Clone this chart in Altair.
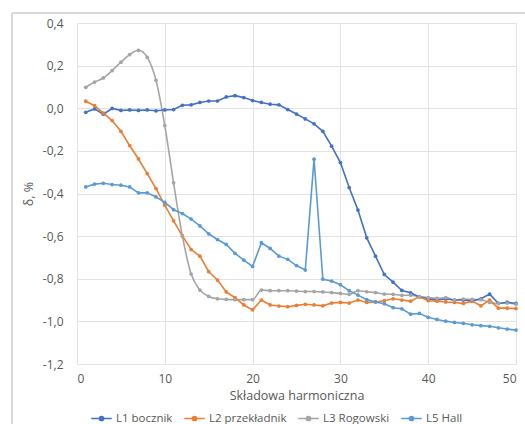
import altair as alt
import pandas as pd

harmonics = list(range(1, 51))

L1_bocznik = [-0.019, -0.003, -0.028, -0.001, -0.010, -0.008, -0.010, -0.008, -0.012, -0.008,
              -0.006, 0.014, 0.016, 0.027, 0.034, 0.034, 0.053, 0.059, 0.050, 0.036,
              0.027, 0.019, 0.016, -0.006, -0.027, -0.050, -0.073, -0.108, -0.178, -0.255,
              -0.372, -0.478, -0.608, -0.694, -0.780, -0.816, -0.855, -0.866, -0.885, -0.895,
              -0.900, -0.895, -0.900, -0.900, -0.905, -0.894, -0.872, -0.916, -0.910, -0.916]

L2_przekladnik = [0.033, 0.012, -0.023, -0.058, -0.108, -0.175, -0.238, -0.307, -0.377, -0.455,
                  -0.528, -0.599, -0.663, -0.694, -0.767, -0.806, -0.862, -0.889, -0.923, -0.946,
                  -0.900, -0.923, -0.928, -0.931, -0.925, -0.920, -0.923, -0.927, -0.914, -0.911,
                  -0.914, -0.900, -0.911, -0.909, -0.903, -0.894, -0.900, -0.905, -0.884, -0.903,
                  -0.905, -0.909, -0.911, -0.916, -0.905, -0.927, -0.900, -0.938, -0.938, -0.940]

L3_rogowski = [0.098, 0.123, 0.142, 0.177, 0.216, 0.252, 0.272, 0.239, 0.131, -0.081,
               -0.350, -0.599, -0.778, -0.853, -0.883, -0.894, -0.897, -0.898, -0.898, -0.898,
               -0.853, -0.856, -0.856, -0.856, -0.858, -0.860, -0.860, -0.862, -0.865, -0.869,
               -0.873, -0.856, -0.861, -0.865, -0.872, -0.873, -0.878, -0.877, -0.884, -0.889,
               -0.892, -0.888, -0.900, -0.895, -0.897, -0.898, -0.911, -0.916, -0.914, -0.920]

L5_hall = [-0.369, -0.356, -0.352, -0.358, -0.361, -0.369, -0.397, -0.397, -0.416, -0.442,
           -0.476, -0.494, -0.520, -0.552, -0.589, -0.616, -0.639, -0.681, -0.713, -0.742,
           -0.631, -0.658, -0.694, -0.709, -0.738, -0.759, -0.239, -0.802, -0.811, -0.828,
           -0.856, -0.877, -0.898, -0.909, -0.917, -0.936, -0.941, -0.966, -0.963, -0.981,
           -0.991, -0.999, -1.005, -1.009, -1.016, -1.020, -1.023, -1.030, -1.036, -1.041]

series_names = ["L1 bocznik", "L2 przekładnik", "L3 Rogowski", "L5 Hall"]
series_values = [L1_bocznik, L2_przekladnik, L3_rogowski, L5_hall]
series_colors = ["#4472C4", "#ED7D31", "#A5A5A5", "#5B9BD5"]

x_ticks = [0, 10, 20, 30, 40, 50]
y_ticks = [-1.2, -1.0, -0.8, -0.6, -0.4, -0.2, 0.0, 0.2, 0.4]

rows = []
for name, vals in zip(series_names, series_values):
    for h, v in zip(harmonics, vals):
        rows.append({"harmonic": h, "value": v, "series": name})
df = pd.DataFrame(rows)

W, H = 439, 341
label_color = "#595959"
grid_color = "#E3E3E3"
font = "Open Sans"

color_scale = alt.Scale(domain=series_names, range=series_colors)

x_enc = alt.X("harmonic:Q",
              scale=alt.Scale(domain=[0, 50], nice=False, zero=False),
              axis=alt.Axis(values=x_ticks, title="Składowa harmoniczna",
                            grid=True, gridColor=grid_color, domain=False, ticks=False,
                            labelPadding=9, labelFontSize=12, labelColor=label_color,
                            labelFont=font, titleFont=font, titleFontSize=12.5,
                            titleFontWeight="normal", titleColor=label_color,
                            titlePadding=5))
y_enc = alt.Y("value:Q",
              scale=alt.Scale(domain=[-1.2, 0.4], nice=False, zero=False),
              axis=alt.Axis(values=y_ticks, title="δ, %",
                            labelExpr="replace(replace(format(datum.value, '.1f'), '.', ','), '\u2212', '-')",
                            grid=True, gridColor=grid_color, domain=False, ticks=False,
                            labelPadding=14, labelFontSize=12, labelColor=label_color,
                            labelFont=font, titleFont=font, titleFontSize=12.5,
                            titleFontWeight="normal", titleColor=label_color,
                            titlePadding=7))

legend = alt.Legend(
    title=None, orient="none", direction="horizontal",
    legendX=13, legendY=384,
    symbolType="M-1,0L1,0M-0.2,0A0.2,0.2,0,1,0,0.2,0A0.2,0.2,0,1,0,-0.2,0Z",
    symbolSize=420, symbolStrokeWidth=1.6,
    labelFont=font, labelFontSize=11.5, labelColor=label_color,
    labelOffset=3, columnPadding=8,
)

base = alt.Chart(df)

lines = base.transform_filter(alt.datum.series != "L3 Rogowski").mark_line(strokeWidth=1.6).encode(
    x=x_enc, y=y_enc,
    color=alt.Color("series:N", scale=color_scale, legend=legend, sort=series_names),
)
gray_line = base.transform_filter(alt.datum.series == "L3 Rogowski").mark_line(
    strokeWidth=1.6, interpolate="monotone").encode(
    x=x_enc, y=y_enc,
    color=alt.Color("series:N", scale=color_scale, legend=legend, sort=series_names),
)
points = base.mark_point(filled=True, size=14, opacity=1).encode(
    x=x_enc, y=y_enc,
    color=alt.Color("series:N", scale=color_scale, legend=legend, sort=series_names),
)

frame_top = alt.Chart(df).mark_rule(color="#D9D9D9", strokeWidth=1).encode(
    x=alt.value(-65), x2=alt.value(W + 30), y=alt.value(-10))
frame_left = alt.Chart(df).mark_rule(color="#D9D9D9", strokeWidth=1).encode(
    x=alt.value(-65), y=alt.value(-10), y2=alt.value(H + 80))

chart = alt.layer(frame_top, frame_left, gray_line, lines, points).properties(
    width=W, height=H,
    autosize=alt.AutoSizeParams(type="none"),
    padding={"left": 77, "top": 23, "right": 9, "bottom": 60},
    background="white",
).configure_view(stroke=None)

chart.save("out.html", embed_options={"renderer": "svg", "actions": False})
